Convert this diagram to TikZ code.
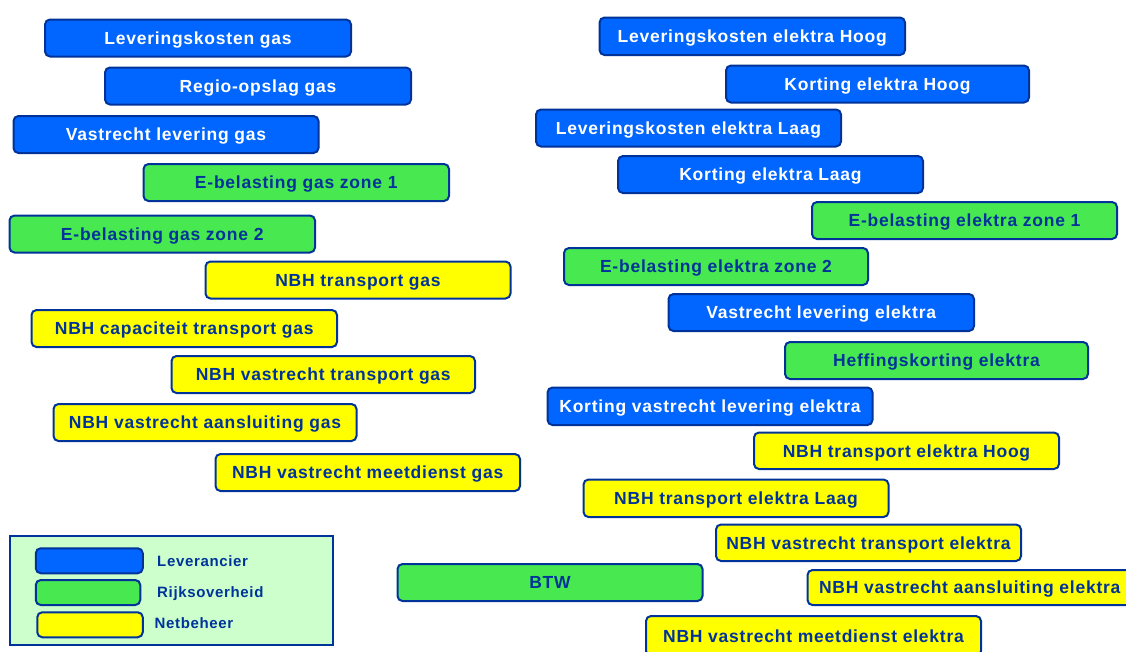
\documentclass[tikz,border=0pt]{standalone}
\usepackage{fontspec}
\newfontfamily\boxfont{Liberation Sans}[LetterSpace=4.4]
\definecolor{lev}{RGB}{0,102,255}
\definecolor{rijk}{RGB}{72,233,80}
\definecolor{net}{RGB}{255,255,0}
\definecolor{navy}{RGB}{0,51,153}
\definecolor{legbg}{RGB}{204,255,204}
\tikzset{
  kbox/.style={draw=navy, line width=2pt, rounded corners=5pt, inner sep=0pt,
    text height=12.5pt, text depth=0pt,
    font=\boxfont\bfseries\fontsize{17.5}{19}\selectfont},
  levbox/.style={kbox, fill=lev, text=white},
  rijkbox/.style={kbox, fill=rijk, text=navy},
  netbox/.style={kbox, fill=net, text=navy},
  legtext/.style={anchor=west, inner sep=0pt, text=navy, text height=10.7pt, text depth=0pt,
    font=\boxfont\bfseries\fontsize{15}{17}\selectfont},
  legkey/.style={draw=navy, line width=2pt, rounded corners=5pt, inner sep=0pt}
}
% \bx{name}{style}{x1}{y1}{x2}{y2}{text}
\newcommand{\bx}[7]{%
  \pgfmathsetmacro{\cx}{(#3+#5)/2}\pgfmathsetmacro{\cy}{(#4+#6)/2}%
  \pgfmathsetmacro{\bw}{#5-#3}\pgfmathsetmacro{\bh}{#6-#4}%
  \node[#2, minimum width=\bw pt, minimum height=\bh pt] (#1) at (\cx,\cy) {#7};}
\begin{document}
\begin{tikzpicture}[x=1pt,y=-1pt]
\useasboundingbox (0,0) rectangle (1126,651);
% left column
\bx{lg}{levbox}{45}{19.5}{351}{56.5}{Leveringskosten gas}
\bx{rg}{levbox}{105}{67.5}{411}{104.5}{Regio-opslag gas}
\bx{vlg}{levbox}{13.5}{116}{318.5}{153}{Vastrecht levering gas}
\bx{eg1}{rijkbox}{143.5}{164}{449}{201}{E-belasting gas zone 1}
\bx{eg2}{rijkbox}{9.5}{215.5}{315}{252.5}{E-belasting gas zone 2}
\bx{ntg}{netbox}{205.5}{261.5}{510.5}{298.5}{NBH transport gas}
\bx{ncg}{netbox}{31.5}{310}{337}{347}{NBH capaciteit transport gas}
\bx{nvtg}{netbox}{171.5}{356}{475}{393}{NBH vastrecht transport gas}
\bx{nvag}{netbox}{53.5}{404}{356.5}{441}{NBH vastrecht aansluiting gas}
\bx{nvmg}{netbox}{215.5}{454}{520}{491}{NBH vastrecht meetdienst gas}
% right column
\bx{leh}{levbox}{599.5}{17.5}{905}{55}{Leveringskosten elektra Hoog}
\bx{keh}{levbox}{726}{65.5}{1029}{102.5}{Korting elektra Hoog}
\bx{lel}{levbox}{536}{109.5}{841}{146.5}{Leveringskosten elektra Laag}
\bx{kel}{levbox}{618}{156}{923}{193}{Korting elektra Laag}
\bx{ee1}{rijkbox}{812}{202}{1117}{239}{E-belasting elektra zone 1}
\bx{ee2}{rijkbox}{564}{248}{868}{285}{E-belasting elektra zone 2}
\bx{vle}{levbox}{668.5}{294}{974}{331}{Vastrecht levering elektra}
\bx{hke}{rijkbox}{785}{342}{1088}{379}{Heffingskorting elektra}
\bx{kvle}{levbox}{547.5}{387.5}{872.5}{425}{Korting vastrecht levering elektra}
\bx{nteh}{netbox}{754}{432.5}{1059}{469}{NBH transport elektra Hoog}
\bx{ntel}{netbox}{583.5}{479.5}{888.5}{517}{NBH transport elektra Laag}
\bx{nvte}{netbox}{716}{524.5}{1021}{561}{NBH vastrecht transport elektra}
\bx{nvae}{netbox}{807.5}{570}{1132}{605}{NBH vastrecht aansluiting elektra}
\bx{nvme}{netbox}{646}{616}{981}{656}{NBH vastrecht meetdienst elektra}
\bx{btw}{rijkbox}{397.5}{564}{702.5}{601}{BTW}
% legend
\node[draw=navy, line width=2pt, fill=legbg, inner sep=0pt,
      minimum width=323.5pt, minimum height=109.5pt] (legend) at (171.25,590.5) {};
\node[legkey, fill=lev,  minimum width=107pt, minimum height=25pt] (klev)  at (89.25,560.75) {};
\node[legkey, fill=rijk, minimum width=104.5pt, minimum height=25pt] (krijk) at (88,592.5) {};
\node[legkey, fill=net,  minimum width=105.5pt, minimum height=25pt] (knet)  at (90,624.75) {};
\node[legtext] (tlev)  at (157,561.5) {Leverancier};
\node[legtext] (trijk) at (157,592.5) {Rijksoverheid};
\node[legtext] (tnet)  at (154.5,623.5) {Netbeheer};
\end{tikzpicture}
\end{document}
